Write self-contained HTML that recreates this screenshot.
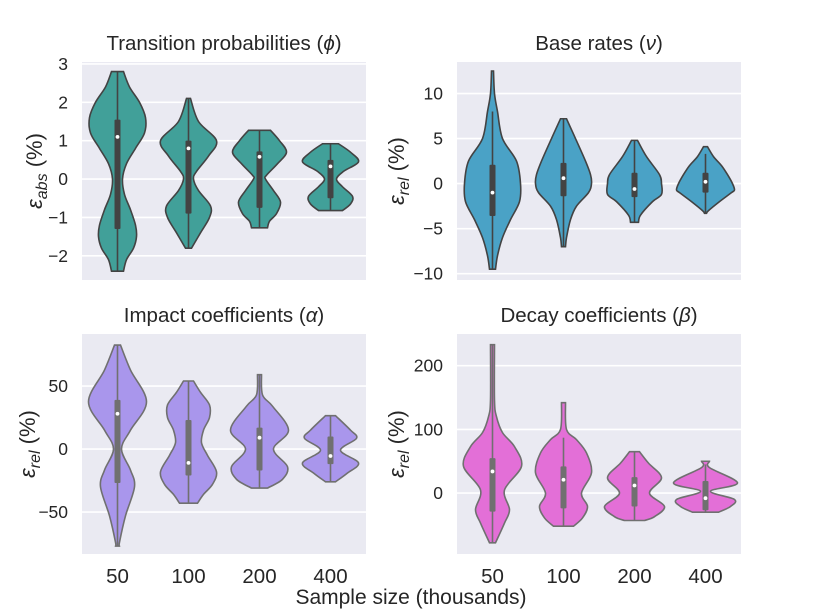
<!DOCTYPE html>
<html><head><meta charset="utf-8">
<style>
html,body{margin:0;padding:0;background:#fff;}
svg{display:block;font-family:"Liberation Sans",sans-serif;}
</style></head>
<body>
<svg id="chart" width="822" height="616" viewBox="0 0 822 616"></svg>
<script>
const categories = ["50","100","200","400"];

// Panel 1: transition probabilities
const phiTicks = [3,2,1,0,-1,-2];
const phiLevels = [
 [2.8,2.4,2.0,1.6,1.2,0.8,0.4,0,-0.4,-0.8,-1.2,-1.5,-1.8,-2.1,-2.4],
 [2.1,1.5,1.0,0.6,0.2,0,-0.3,-0.7,-1.0,-1.4,-1.8],
 [1.27,1.0,0.7,0.4,0.1,0,-0.3,-0.6,-0.9,-1.1,-1.27],
 [0.92,0.7,0.45,0.2,0,-0.2,-0.45,-0.65,-0.82]];
const phiDensity = [
 [6,12,22,28,27,18,9,5,7,13,18,19,16,9,6],
 [2,10,28,20,8,5,10,22,21,12,3],
 [11,20,27,18,7,6,14,21,17,10,8],
 [8,20,28,13,6,12,22,20,12]];
const phiQ1 = [-1.3,-0.9,-0.75,-0.5];
const phiQ3 = [1.55,1.0,0.72,0.5];
const phiMedian = [1.1,0.8,0.58,0.33];
const phiWhiskerLo = [-2.4,-1.8,-1.27,-0.82];
const phiWhiskerHi = [2.8,2.1,1.27,0.92];

// Panel 2: base rates
const nuTicks = [10,5,0,-5,-10];
const nuLevels = [
 [12.5,10,8,5,2.5,0,-2,-4,-6,-8,-9.5],
 [7.2,5,2.5,1,0,-1,-2.5,-4,-6,-7],
 [4.8,3,1,0,-1.2,-2,-3.5,-4.3],
 [4.1,3,2,1,0,-0.7,-1,-2,-3,-3.3]];
const nuDensity = [
 [1,2,5,10,24,28,27,18,10,5,3],
 [3,12,22,27,28,25,13,7,3,2],
 [3,12,25,27,27,18,6,4],
 [2,8,16,22,27,29,26,14,3,1]];
const nuQ1 = [-3.6,-1.4,-1.5,-1.0];
const nuQ3 = [2.1,2.3,1.2,1.2];
const nuMedian = [-1.0,0.6,-0.6,0.2];
const nuWhiskerLo = [-9.5,-7,-4.3,-3.3];
const nuWhiskerHi = [8,7.2,4.8,3.3];

// Panel 3: impact coefficients
const alphaTicks = [50,0,-50];
const alphaLevels = [
 [82.5,62.7,37.5,15,0,-16.7,-30,-53,-74,-77],
 [54,45,35,25,15,5,-5,-18,-28,-36,-43],
 [59,43,34,15,0,-14,-24,-31],
 [26.5,15,8.5,-1,-11,-19,-26]];
const alphaDensity = [
 [3,13,29,13,4,13,17,8,2,2],
 [5,12,21,21,15,13,19,28,24,15,9],
 [2,3,13,29,14,28,23,8],
 [5,20,26,10,28,17,5]];
const alphaQ1 = [-27,-21,-17,-12];
const alphaQ3 = [39,23,17,10];
const alphaMedian = [28,-11,9,-5.5];
const alphaWhiskerLo = [-77,-43,-31,-26];
const alphaWhiskerHi = [82.5,54,59,26.5];

// Panel 4: decay coefficients
const betaTicks = [200,100,0];
const betaLevels = [
 [233,146,120,95,73,42,5,-26,-47,-78],
 [142,100,84,63,32,0,-21,-39,-52],
 [65,47,24,0,-21,-37,-43],
 [50,40,16,3,-10,-21,-30]];
const betaDensity = [
 [2,2,4,10,22,29,12,17,12,3],
 [2,3,13,23,28,18,24,19,10],
 [5,14,27,15,30,20,10],
 [4,4,32,5,29,25,13]];
const betaQ1 = [-29,-24,-21,-27];
const betaQ3 = [55,42,25,19];
const betaMedian = [34,21,12,-8];
const betaWhiskerLo = [-78,-52,-43,-30];
const betaWhiskerHi = [233,87,65,45];

const NS = "http://www.w3.org/2000/svg";
const svg = document.getElementById("chart");
function mk(tag, attrs, parent){
  const e = document.createElementNS(NS, tag);
  for (const k in attrs) e.setAttribute(k, attrs[k]);
  (parent||svg).appendChild(e);
  return e;
}

function smoothPath(pts){
  let d = "M"+pts[0][0].toFixed(2)+","+pts[0][1].toFixed(2);
  for (let i=0;i<pts.length-1;i++){
    const p0=pts[Math.max(0,i-1)], p1=pts[i], p2=pts[i+1], p3=pts[Math.min(pts.length-1,i+2)];
    const c1=[p1[0]+(p2[0]-p0[0])/6, p1[1]+(p2[1]-p0[1])/6];
    const c2=[p2[0]-(p3[0]-p1[0])/6, p2[1]-(p3[1]-p1[1])/6];
    d+=" C"+c1[0].toFixed(2)+","+c1[1].toFixed(2)+" "+c2[0].toFixed(2)+","+c2[1].toFixed(2)+" "+p2[0].toFixed(2)+","+p2[1].toFixed(2);
  }
  return d;
}

function panel(cfg){
  const g = mk("g", {});
  
  
  const {x0,x1,y0,y1,vmax,vmin} = cfg;
  const ys = v => y0 + (vmax - v) / (vmax - vmin) * (y1 - y0);
  const band = (x1 - x0) / categories.length;
  const xs = i => x0 + band * (i + 0.5);
  const bg = mk("rect", {x:x0,y:y0,width:x1-x0,height:y1-y0,fill:"#eaeaf2"}, g);
  
  
  cfg.ticks.forEach(t=>{
    const gl = mk("line",{x1:x0,x2:x1,y1:ys(t),y2:ys(t),stroke:"#fff","stroke-width":1.6},g);
    
    
    const tl = mk("text",{x:x0-14,y:ys(t)+6,"text-anchor":"end","font-size":17.5,fill:"#262626"},g);
    tl.textContent = t < 0 ? "\u2212"+Math.abs(t) : String(t);
    
    
  });
  categories.forEach((c,i)=>{
    const cx = xs(i);
    const lv = cfg.levels[i], dn = cfg.density[i];
    const right = lv.map((v,k)=>[cx+dn[k], ys(v)]);
    const left = lv.map((v,k)=>[cx-dn[k], ys(v)]).reverse();
    let d = smoothPath(right) + " L" + left[0][0].toFixed(2)+","+left[0][1].toFixed(2);
    d += smoothPath(left).replace(/^M[^C]*/, " ") + " Z";
    const vp = mk("path",{d:d,fill:cfg.color,stroke:cfg.edge,"stroke-width":1.6},g);
    
    
    const wl = mk("line",{x1:cx,x2:cx,y1:ys(cfg.wlo[i]),y2:ys(cfg.whi[i]),stroke:cfg.edge,"stroke-width":1.6},g);
    
    
    const bx = mk("rect",{x:cx-3,y:ys(cfg.q3[i]),width:6,height:ys(cfg.q1[i])-ys(cfg.q3[i]),rx:1,fill:cfg.edge},g);
    
    
    const md = mk("circle",{cx:cx,cy:ys(cfg.med[i]),r:1.9,fill:"#fff"},g);
    
    
    if (cfg.xlabels){
      const xl = mk("text",{x:cx,y:y1+29,"text-anchor":"middle","font-size":20.5,fill:"#262626"},g);
      xl.textContent = c;
      
      
    }
  });
  const tt = mk("text",{x:(x0+x1)/2,y:y0-12,"text-anchor":"middle","font-size":20.5,fill:"#262626"},g);
  tt.innerHTML = cfg.title;
  
  
  const yl = mk("text",{x:0,y:0,"text-anchor":"middle","font-size":22,fill:"#262626",transform:"translate("+cfg.ylx+","+((y0+y1)/2)+") rotate(-90)"},g);
  yl.innerHTML = '<tspan font-style="italic">\u03b5</tspan><tspan font-style="italic" font-size="16" dy="5">'+cfg.sub+'</tspan><tspan dy="-5"> (%)</tspan>';
  
  
}

panel({name:"panel-transition-probabilities",x0:82,x1:366,y0:62,y1:280,vmax:3.05,vmin:-2.63,ticks:phiTicks,
  levels:phiLevels,density:phiDensity,q1:phiQ1,q3:phiQ3,med:phiMedian,wlo:phiWhiskerLo,whi:phiWhiskerHi,
  color:"#41a099",edge:"#434343",title:'Transition probabilities (<tspan font-style="italic">\u03d5</tspan>)',sub:"abs",ylx:42});
panel({name:"panel-base-rates",x0:457,x1:741,y0:62,y1:280,vmax:13.5,vmin:-10.7,ticks:nuTicks,
  levels:nuLevels,density:nuDensity,q1:nuQ1,q3:nuQ3,med:nuMedian,wlo:nuWhiskerLo,whi:nuWhiskerHi,
  color:"#4aa2c6",edge:"#434343",title:'Base rates (<tspan font-style="italic">\u03bd</tspan>)',sub:"rel",ylx:404});
panel({name:"panel-impact-coefficients",x0:82,x1:366,y0:334,y1:554,vmax:91.3,vmin:-83.3,ticks:alphaTicks,
  levels:alphaLevels,density:alphaDensity,q1:alphaQ1,q3:alphaQ3,med:alphaMedian,wlo:alphaWhiskerLo,whi:alphaWhiskerHi,
  color:"#a996ec",edge:"#707070",title:'Impact coefficients (<tspan font-style="italic">\u03b1</tspan>)',sub:"rel",ylx:35,xlabels:true});
panel({name:"panel-decay-coefficients",x0:457,x1:741,y0:334,y1:554,vmax:249.8,vmin:-95.6,ticks:betaTicks,
  levels:betaLevels,density:betaDensity,q1:betaQ1,q3:betaQ3,med:betaMedian,wlo:betaWhiskerLo,whi:betaWhiskerHi,
  color:"#e36fd7",edge:"#707070",title:'Decay coefficients (<tspan font-style="italic">\u03b2</tspan>)',sub:"rel",ylx:404,xlabels:true});

const xt = mk("text",{x:411,y:604,"text-anchor":"middle","font-size":21,fill:"#262626"});
xt.textContent = "Sample size (thousands)";


</script>
</body></html>
